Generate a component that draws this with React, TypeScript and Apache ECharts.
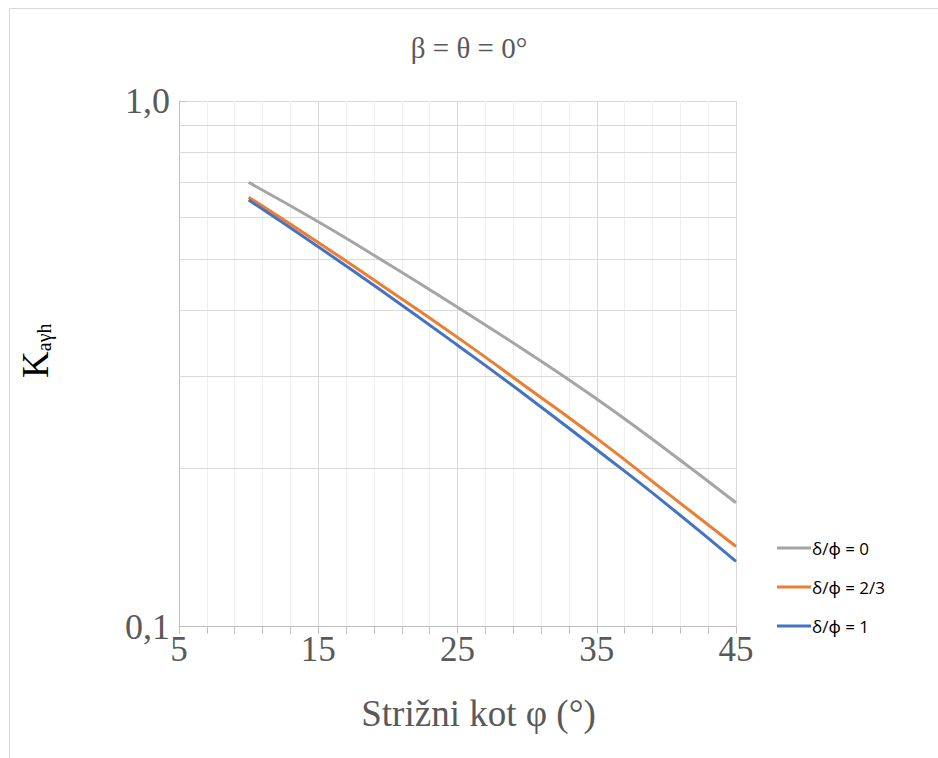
import React, { useEffect, useRef } from "react";
import * as echarts from "echarts";

// Shear angle φ (°)
const phiValues = [10, 15, 20, 25, 30, 35, 40, 45];
// Horizontal active earth pressure coefficient for each wall-friction ratio
const kDelta0 = [0.7, 0.589, 0.49, 0.405, 0.333, 0.271, 0.217, 0.172];
const kDelta23 = [0.656, 0.538, 0.438, 0.355, 0.285, 0.228, 0.18, 0.142];
const kDelta1 = [0.648, 0.528, 0.427, 0.343, 0.274, 0.217, 0.171, 0.133];

const seriesNames = ["δ/ϕ = 0", "δ/ϕ = 2/3", "δ/ϕ = 1"];
const seriesColors = ["#a5a5a5", "#ed7d31", "#4472c4"];
const seriesValues = [kDelta0, kDelta23, kDelta1];

// Intermediate log gridlines within the decade
const logGridValues = [0.2, 0.3, 0.4, 0.5, 0.6, 0.7, 0.8, 0.9];

const SERIF = "'Liberation Serif', 'Times New Roman', serif";
const TEXT = "#595959";

export default function App() {
  const ref = useRef<HTMLDivElement>(null);

  useEffect(() => {
    if (!ref.current) return;
    const chart = echarts.init(ref.current, undefined, { renderer: "svg" });

    const lineSeries = seriesValues.map((vals, i) => ({
      name: seriesNames[i],
      type: "line",
      data: phiValues.map((p, j) => [p, vals[j]]),
      smooth: true,
      showSymbol: false,
      symbol: "none",
      z: 5,
      lineStyle: { color: seriesColors[i], width: 3 },
      itemStyle: { color: seriesColors[i] },
    }));

    chart.setOption({
      animation: false,
      backgroundColor: "#ffffff",
      title: {
        text: "β = θ = 0°",
        left: "center",
        top: 28,
        textStyle: { fontFamily: SERIF, fontSize: 29, fontWeight: "normal", color: TEXT },
      },
      grid: { left: 179, right: 202, top: 101, bottom: 131.5 },
      legend: {
        orient: "vertical",
        left: 777,
        top: 538,
        padding: 0,
        itemWidth: 34,
        itemHeight: 3,
        itemGap: 19,
        icon: "rect",
        data: seriesNames,
        textStyle: {
          fontFamily: "'Open Sans', 'Noto Sans', sans-serif",
          fontSize: 17,
          color: "#000000",
          padding: [0, 0, 0, -4],
          lineHeight: 20,
        },
      },
      graphic: [
        {
          type: "rect",
          shape: { x: 9.5, y: 8.5, width: 940, height: 760 },
          style: { fill: "none", stroke: "#d9d9d9", lineWidth: 1 },
          silent: true,
          z: 0,
        },
      ],
      xAxis: {
        type: "value",
        min: 5,
        max: 45,
        interval: 10,
        name: "Strižni kot φ (°)",
        nameLocation: "middle",
        nameGap: 68,
        nameTextStyle: { fontFamily: SERIF, fontSize: 37, color: TEXT, padding: [0, 0, 0, 42] },
        axisLine: { show: true, lineStyle: { color: "#bfbfbf", width: 1 } },
        axisTick: { show: true, length: 7, lineStyle: { color: "#bfbfbf" } },
        minorTick: { show: true, splitNumber: 5, length: 7, lineStyle: { color: "#bfbfbf" } },
        axisLabel: { fontFamily: SERIF, fontSize: 35, color: TEXT, margin: 5 },
        splitLine: { show: true, lineStyle: { color: "#d9d9d9", width: 1 } },
        minorSplitLine: { show: true, lineStyle: { color: "#efefef", width: 1 } },
      },
      yAxis: {
        type: "log",
        logBase: 10,
        min: 0.1,
        max: 1,
        name: "{k|K}{s|aγh}",
        nameLocation: "middle",
        nameGap: 125,
        nameRotate: 90,
        nameTextStyle: {
          padding: [0, 0, 0, 26],
          rich: {
            k: { fontFamily: SERIF, fontSize: 37, color: "#000000", lineHeight: 40, verticalAlign: "bottom" },
            s: { fontFamily: SERIF, fontSize: 20, color: "#000000", lineHeight: 14, verticalAlign: "bottom" },
          },
        },
        axisLine: { show: true, lineStyle: { color: "#bfbfbf", width: 1 } },
        axisTick: { show: true, inside: true, length: 7, lineStyle: { color: "#bfbfbf" } },
        axisLabel: {
          fontFamily: SERIF,
          fontSize: 36,
          color: TEXT,
          margin: 9,
          formatter: (v: number) => v.toFixed(1).replace(".", ","),
        },
        splitLine: { show: true, lineStyle: { color: "#d9d9d9", width: 1 } },
      },
      series: [
        {
          type: "line",
          data: [],
          silent: true,
          z: 1,
          markLine: {
            silent: true,
            symbol: "none",
            label: { show: false },
            lineStyle: { color: "#d9d9d9", width: 1, type: "solid" },
            data: logGridValues.map((v) => ({ yAxis: v })),
          },
        },
        ...lineSeries,
      ],
    });

    return () => chart.dispose();
  }, []);

  return (
    <div
      ref={ref}
      style={{ position: "fixed", left: 0, top: 0, width: 938, height: 758, background: "#fff" }}
    />
  );
}
